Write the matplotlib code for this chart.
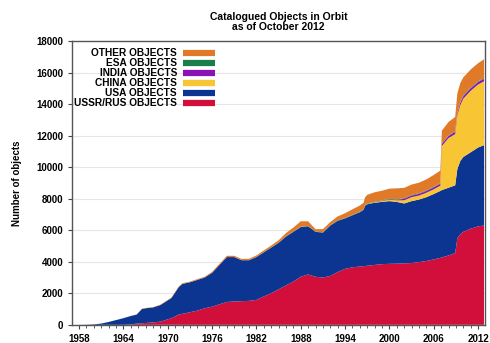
import matplotlib.pyplot as plt
from matplotlib.lines import Line2D
import numpy as np

plt.rcParams['font.family'] = ['Liberation Sans', 'DejaVu Sans']
plt.rcParams['font.weight'] = 'bold'

# sample dates (fractional year)
years = [1957.8, 1959, 1960, 1961, 1962, 1963, 1964, 1965, 1965.8, 1966.5,
         1967, 1968, 1969, 1970, 1970.5, 1971.5, 1972, 1973, 1974, 1975,
         1976, 1977, 1978, 1979, 1980, 1981, 1982, 1983, 1984, 1985,
         1986, 1987, 1988, 1989, 1990, 1991, 1992, 1993, 1994, 1995,
         1996, 1996.5, 1996.7, 1997, 1998, 1999, 2000, 2001, 2002, 2003,
         2004, 2005, 2006, 2006.9, 2007.1, 2008, 2008.9, 2009.2, 2009.6, 2010,
         2011, 2012, 2012.8]

ussr = [0, 0, 0, 0, 0, 0, 0, 20, 80, 100,
        120, 150, 200, 350, 420, 650, 700, 800, 900, 1050,
        1150, 1300, 1450, 1480, 1500, 1520, 1580, 1800, 2000, 2250,
        2500, 2750, 3050, 3200, 3050, 3000, 3100, 3350, 3550, 3650,
        3700, 3720, 3730, 3750, 3800, 3850, 3870, 3880, 3900, 3920,
        3980, 4050, 4150, 4250, 4280, 4400, 4550, 5500, 5750, 5900,
        6100, 6250, 6300]

# USA + USSR cumulative top (blue edge)
usa_top = [0, 10, 30, 80, 180, 300, 420, 560, 650, 1000,
           1050, 1100, 1250, 1550, 1700, 2400, 2600, 2700, 2850, 3000,
           3300, 3800, 4300, 4300, 4100, 4100, 4300, 4600, 4900, 5200,
           5600, 5900, 6200, 6250, 5900, 5850, 6300, 6600, 6750, 6950,
           7150, 7300, 7550, 7650, 7750, 7800, 7850, 7800, 7700, 7850,
           7950, 8100, 8300, 8500, 8550, 8700, 8850, 9900, 10400, 10650,
           10950, 11250, 11400]

china = [0, 0, 0, 0, 0, 0, 0, 0, 0, 0,
         0, 0, 0, 0, 0, 0, 0, 0, 0, 0,
         0, 0, 0, 0, 0, 0, 0, 0, 0, 0,
         0, 0, 0, 0, 0, 0, 0, 0, 0, 0,
         10, 10, 10, 20, 30, 50, 80, 100, 200, 250,
         250, 280, 300, 330, 2800, 3150, 3250, 3400, 3550, 3700,
         3900, 4000, 4050]

india = [0, 0, 0, 0, 0, 0, 0, 0, 0, 0,
         0, 0, 0, 0, 0, 0, 0, 0, 0, 0,
         0, 0, 0, 0, 0, 0, 0, 0, 0, 0,
         0, 0, 0, 0, 0, 0, 0, 0, 0, 0,
         0, 0, 0, 0, 0, 10, 20, 20, 100, 100,
         110, 110, 120, 120, 130, 130, 140, 140, 150, 150,
         150, 150, 150]

esa = [0, 0, 0, 0, 0, 0, 0, 0, 0, 0,
       0, 0, 0, 0, 0, 0, 0, 0, 0, 0,
       0, 0, 0, 0, 0, 0, 0, 10, 10, 10,
       20, 20, 20, 20, 20, 20, 20, 30, 30, 30,
       30, 30, 30, 30, 30, 30, 40, 40, 40, 40,
       40, 40, 40, 40, 40, 40, 50, 50, 50, 50,
       50, 50, 50]

other = [0, 0, 0, 0, 0, 0, 0, 10, 10, 20,
         20, 20, 30, 30, 30, 40, 40, 40, 50, 50,
         60, 70, 80, 80, 80, 90, 100, 110, 120, 150,
         200, 250, 350, 300, 150, 200, 200, 250, 300, 350,
         380, 400, 500, 550, 600, 620, 650, 700, 650, 660,
         670, 700, 750, 800, 800, 850, 900, 1200, 1200, 1150,
         1150, 1150, 1200]

usa = np.array(usa_top) - np.array(ussr)

labels = ['USSR/RUS OBJECTS', 'USA OBJECTS', 'CHINA OBJECTS',
          'INDIA OBJECTS', 'ESA OBJECTS', 'OTHER OBJECTS']
colors = ['#d20f3a', '#0b3590', '#f8c634', '#8b12b5', '#1b7f4c', '#e07a28']

fig = plt.figure(figsize=(4.9, 3.43), dpi=100)
ax = fig.add_axes([0.147, 0.053, 0.843, 0.827])

ax.stackplot(years, ussr, usa, china, india, esa, other,
             colors=colors, linewidth=0)

ax.set_xlim(1957.05, 2012.95)
ax.set_ylim(0, 18000)
ax.set_xticks(np.arange(1958, 2013, 6))
ax.set_xticks(np.arange(1958, 2013, 1), minor=True)
ax.set_yticks(np.arange(0, 18001, 2000))
ax.tick_params(axis='both', labelsize=7, length=3, width=0.8, color='#444444')
ax.tick_params(axis='x', which='minor', length=2, width=0.6, color='#444444')
ax.grid(axis='y', color='#e6e6e6', linewidth=0.8)
ax.set_axisbelow(True)
for s in ax.spines.values():
    s.set_color('#555555')
    s.set_linewidth(1.0)

ax.set_ylabel('Number of objects', fontsize=7, fontweight='bold', labelpad=10)
ax.set_title('Catalogued Objects in Orbit\nas of October 2012',
             fontsize=7.5, fontweight='bold', pad=8, linespacing=1.0)

handles = [Line2D([], [], color=c, lw=4.5, solid_capstyle='butt') for c in colors]
leg = ax.legend(handles[::-1], labels[::-1], loc='upper left',
                bbox_to_anchor=(-0.012, 1.0), frameon=False, markerfirst=False,
                fontsize=7.3, labelspacing=0.0, handlelength=3.1,
                handletextpad=0.6, borderaxespad=0.3)
for t in leg.get_texts():
    t.set_ha('right')
    t.set_fontweight('bold')
leg._legend_box.align = 'right'

fig.savefig('out.png', dpi=100)
